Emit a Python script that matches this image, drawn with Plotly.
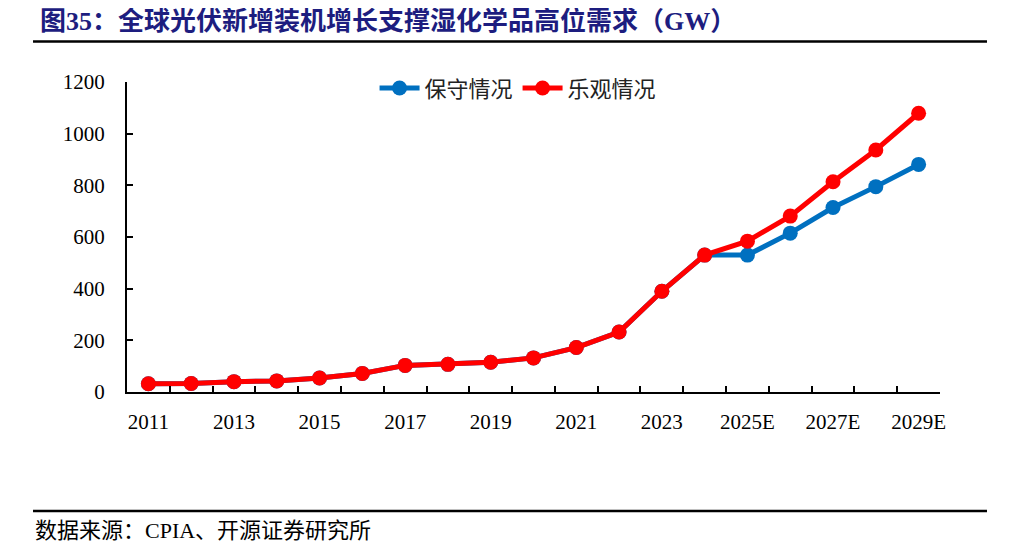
import plotly.graph_objects as go

# 全球光伏新增装机 (GW)
years = ["2011", "2012", "2013", "2014", "2015", "2016", "2017", "2018", "2019", "2020",
         "2021", "2022", "2023", "2024", "2025E", "2026E", "2027E", "2028E", "2029E"]
conservative = [32, 33, 40, 43, 54, 72, 103, 107, 115, 132,
                172, 232, 390, 530, 530, 615, 714, 795, 881]
optimistic = [32, 33, 40, 43, 54, 72, 103, 107, 115, 132,
              172, 232, 390, 530, 584, 681, 814, 937, 1079]
xlabels = [y if i % 2 == 0 else "" for i, y in enumerate(years)]

title_text = "图35：全球光伏新增装机增长支撑湿化学品高位需求（GW）"
source_text = "数据来源：CPIA、开源证券研究所"

FONT = "Liberation Serif, Noto Sans CJK SC, serif"

fig = go.Figure()
fig.add_trace(go.Scatter(x=years, y=conservative, name="保守情况", mode="lines+markers",
                         line=dict(color="#0070C0", width=5),
                         marker=dict(color="#0070C0", size=15)))
fig.add_trace(go.Scatter(x=years, y=optimistic, name="乐观情况", mode="lines+markers",
                         line=dict(color="#FF0000", width=5),
                         marker=dict(color="#FF0000", size=15)))

# page has an 8px body margin, so the figure is a bit smaller than the window
fig.update_layout(
    width=1002, height=550,
    margin=dict(l=119, r=70, t=74, b=166),
    paper_bgcolor="white", plot_bgcolor="white",
    font=dict(family=FONT, size=21, color="black"),
    showlegend=True,
    legend=dict(orientation="h", x=0.481, xanchor="center", y=0.98, yanchor="middle",
                font=dict(family="Noto Sans CJK SC", size=22, color="#222"),
                bgcolor="rgba(0,0,0,0)", itemwidth=40),
)

fig.update_xaxes(type="category", range=[-0.5, 18.5], tickmode="array",
                 tickvals=years, ticktext=xlabels, tickson="boundaries", tickangle=0,
                 ticks="inside", ticklen=6, tickwidth=1.5, tickcolor="black",
                 showline=True, linecolor="black", linewidth=2, showgrid=False,
                 ticklabelstandoff=10, tickfont=dict(family=FONT, size=21))
fig.update_yaxes(range=[0, 1200], dtick=200, ticks="inside", ticklen=6, tickwidth=1.5,
                 tickcolor="black", showline=True, linecolor="black", linewidth=2,
                 showgrid=False, zeroline=False, ticklabelstandoff=16,
                 tickfont=dict(family=FONT, size=21))

# title, rules and source note
fig.add_annotation(text="<b>" + title_text + "</b>", xref="paper", yref="paper",
                   x=-0.11, y=1.197, xanchor="left", yanchor="middle", showarrow=False,
                   font=dict(family=FONT, size=26, color="#1d1d7f"))
fig.add_shape(type="line", xref="paper", yref="paper", x0=-0.1156, x1=1.0578,
              y0=1.1306, y1=1.1306, line=dict(color="black", width=2.5))
fig.add_shape(type="line", xref="paper", yref="paper", x0=-0.1156, x1=1.0578,
              y0=-0.3839, y1=-0.3839, line=dict(color="black", width=2.5))
fig.add_annotation(text=source_text, xref="paper", yref="paper",
                   x=-0.1156, y=-0.448, xanchor="left", yanchor="middle", showarrow=False,
                   font=dict(family=FONT, size=22, color="black"))

fig.write_html("out.html")
